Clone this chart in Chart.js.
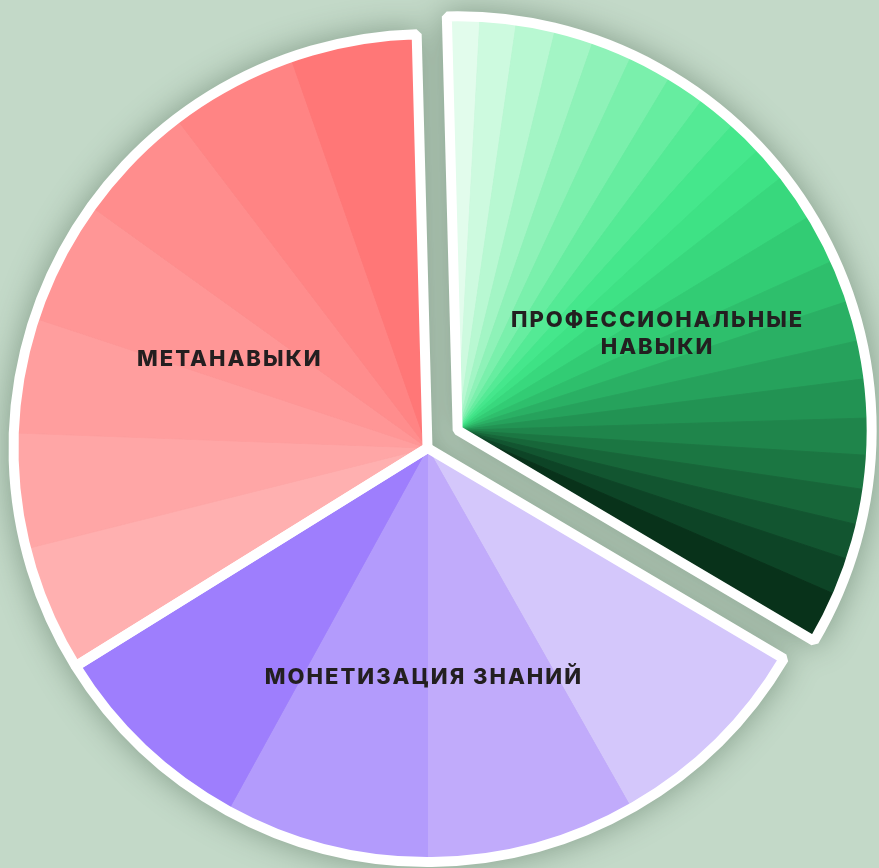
<!DOCTYPE html>
<html lang="ru">
<head>
<meta charset="utf-8">
<title>Навыки</title>
<script src="https://cdn.jsdelivr.net/npm/chart.js@4.4.1/dist/chart.umd.min.js"></script>
<style>
  html, body { margin: 0; padding: 0; background: #c3d9c8; overflow: hidden; }
  #wrap {
    position: relative;
    width: 879px;
    height: 868px;
    filter: drop-shadow(0 0 16px rgba(50, 80, 58, 0.45));
  }
  #wrap canvas { position: absolute; left: 0; top: 0; }
</style>
</head>
<body>
<div id="wrap">
  <canvas id="slices" width="879" height="868"></canvas>
  <canvas id="groups" width="879" height="868"></canvas>
</div>
<script>
// группы (по часовой стрелке от верха)
const groupLabels = ['ПРОФЕССИОНАЛЬНЫЕ\nНАВЫКИ', 'МОНЕТИЗАЦИЯ ЗНАНИЙ', 'МЕТАНАВЫКИ'];

// доли внутри каждой группы
const profSkills = [4.6, 5.1, 5.5, 5.5, 5.7, 6.1, 5.5, 5.5, 5.0, 5.0, 6.7,
                    7.0, 6.0, 5.7, 5.4, 5.5, 5.2, 4.8, 5.0, 5.0, 5.2, 7.1];
const monetization = [29.9, 29.5, 28.8, 29.4];
const metaSkills = [17.7, 16.2, 16.2, 17.4, 17.0, 18.0, 17.8];

// цвета
const profColors = ['#e2fcec', '#cdfadf', '#b8f8d2', '#a3f5c5', '#8ef2b8', '#7af0ac',
                    '#66eda0', '#54ea95', '#45e78c', '#3ee285', '#38d87d', '#32cc74',
                    '#2ebf6c', '#2ab064', '#26a25c', '#229353', '#1f854b', '#1b7642',
                    '#176639', '#125530', '#0d4426', '#08321a'];
const monetColors = ['#d4c7fb', '#c1abfb', '#b39bfc', '#9e7efd'];
const metaColors = ['#ffb0b0', '#ffa6a6', '#ff9e9e', '#ff9696', '#ff8d8d', '#ff8484', '#ff7777'];

const sum = arr => arr.reduce((a, b) => a + b, 0);
const groupTotals = [sum(profSkills), sum(monetization), sum(metaSkills)];

const SHIFT = 35;      // насколько выдвинут первый сектор
const RADIUS = 414;
const ROTATION = -1.5;
const PADDING = { left: 0, right: 24, top: 28, bottom: 0 };

// сдвигаем всю группу "профессиональные навыки" как один кусок
const explode = {
  id: 'explode',
  afterDatasetsUpdate(chart, args, opts) {
    const arcs = chart.getDatasetMeta(0).data;
    const n = opts.count;
    if (!arcs.length || !n) return;
    const mid = (arcs[0].startAngle + arcs[n - 1].endAngle) / 2;
    const dx = Math.cos(mid) * SHIFT;
    const dy = Math.sin(mid) * SHIFT;
    for (let i = 0; i < n; i++) {
      arcs[i].x += dx;
      arcs[i].y += dy;
    }
  }
};

// подписи групп
const labelPlace = [
  { turn: 4.7, depth: 0.536 },
  { turn: 1.5, depth: 0.555 },
  { turn: -4.3, depth: 0.523 }
];
const groupText = {
  id: 'groupText',
  afterDatasetsDraw(chart) {
    const ctx = chart.ctx;
    const arcs = chart.getDatasetMeta(0).data;
    ctx.save();
    ctx.font = '800 22px Inter';
    ctx.letterSpacing = '2px';
    ctx.fillStyle = '#231f20';
    ctx.textAlign = 'center';
    ctx.textBaseline = 'middle';
    arcs.forEach((arc, i) => {
      const p = labelPlace[i];
      const a = (arc.startAngle + arc.endAngle) / 2 + p.turn * Math.PI / 180;
      const r = arc.outerRadius * p.depth;
      const x = arc.x + Math.cos(a) * r;
      const y = arc.y + Math.sin(a) * r;
      const lines = groupLabels[i].split('\n');
      lines.forEach((ln, k) => {
        ctx.fillText(ln, x, y + (k - (lines.length - 1) / 2) * 27);
      });
    });
    ctx.restore();
  }
};

const baseOptions = {
  responsive: false,
  animation: false,
  events: [],
  rotation: ROTATION,
  layout: { padding: PADDING },
  plugins: {
    legend: { display: false },
    tooltip: { enabled: false }
  }
};

// мелкие сектора
const sliceColors = [...profColors, ...monetColors, ...metaColors];
new Chart(document.getElementById('slices'), {
  type: 'pie',
  data: {
    labels: sliceColors.map((c, i) => 'part ' + i),
    datasets: [{
      data: [...profSkills, ...monetization, ...metaSkills],
      backgroundColor: sliceColors,
      borderColor: sliceColors,
      borderWidth: 1,
      radius: RADIUS
    }]
  },
  options: {
    ...baseOptions,
    plugins: { ...baseOptions.plugins, explode: { count: profSkills.length } }
  },
  plugins: [explode]
});

// белые контуры групп и подписи
new Chart(document.getElementById('groups'), {
  type: 'pie',
  data: {
    labels: groupLabels,
    datasets: [{
      data: groupTotals,
      backgroundColor: 'rgba(0,0,0,0)',
      borderColor: '#ffffff',
      borderWidth: 10,
      radius: RADIUS
    }]
  },
  options: {
    ...baseOptions,
    plugins: { ...baseOptions.plugins, explode: { count: 1 } }
  },
  plugins: [explode, groupText]
});
</script>
</body>
</html>
